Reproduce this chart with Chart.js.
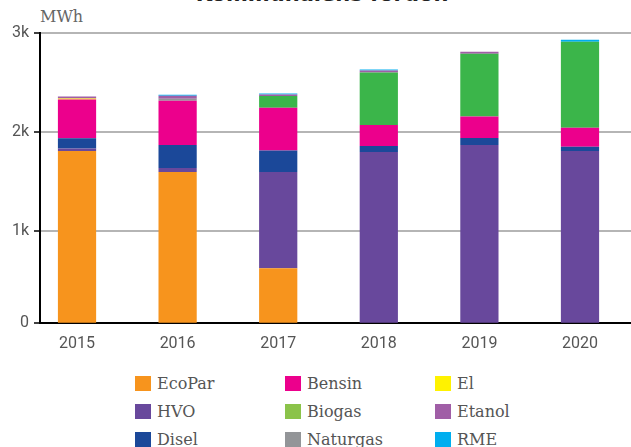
<!DOCTYPE html>
<html>
<head>
<meta charset="utf-8">
<script src="https://cdn.jsdelivr.net/npm/chart.js@4"></script>
<style>
  body { margin: 0; background: #fff; }
  #wrap { position: relative; width: 631px; height: 447px; overflow: hidden; }
  #chartBox { position: absolute; left: 0; top: 0; width: 631px; height: 366px; }
  #title { position: absolute; top: -18px; left: 0; width: 644px; text-align: center;
    font: bold 21px "DejaVu Sans", sans-serif; color: #222; }
  #unit { position: absolute; left: 40px; top: 7px; font: 16px "DejaVu Serif", serif; color: #666; }
  #legend { position: absolute; left: 0; top: 0; }
  .item { position: absolute; height: 20px; display: flex; align-items: center;
    font: 16px "DejaVu Serif", serif; color: #555; white-space: nowrap; }
  .box { width: 16px; height: 15px; margin-right: 6px; }
</style>
</head>
<body>
<div id="wrap">
  <div id="title">Kommunalens fordon</div>
  <div id="unit">MWh</div>
  <div id="chartBox"><canvas id="myChart"></canvas></div>
  <div id="legend"></div>
</div>
<script>
// Data
const years = [2015, 2016, 2017, 2018, 2019, 2020];

const ecoPar   = [1807, 1595, 622, 0, 0, 0];
const hvo      = [24, 40, 973, 1797, 1868, 1807];
const disel    = [105, 233, 216, 61, 71, 44];
const bensin   = [391, 446, 432, 213, 216, 190];
const el       = [10, 0, 0, 0, 0, 0];
const naturgas = [0, 21, 0, 0, 0, 0];
const biogas   = [0, 0, 119, 530, 635, 871];
const etanol   = [21, 30, 16, 20, 20, 0];
const rme      = [0, 10, 10, 10, 0, 20];

const yTicks = [0, 1000, 2000, 3000];

// stacking order, bottom to top
const series = [
  { label: 'EcoPar',   data: ecoPar,   color: '#f7941d' },
  { label: 'HVO',      data: hvo,      color: '#68489c' },
  { label: 'Disel',    data: disel,    color: '#1b4899' },
  { label: 'Bensin',   data: bensin,   color: '#ec008c' },
  { label: 'El',       data: el,       color: '#fff200' },
  { label: 'Naturgas', data: naturgas, color: '#939598' },
  { label: 'Biogas',   data: biogas,   color: '#3bb54a', legendColor: '#8bc34a' },
  { label: 'Etanol',   data: etanol,   color: '#a05ea6' },
  { label: 'RME',      data: rme,      color: '#00aeef' }
];

// legend order (3 columns, read down)
const legendCols = [
  ['EcoPar', 'HVO', 'Disel'],
  ['Bensin', 'Biogas', 'Naturgas'],
  ['El', 'Etanol', 'RME']
];

const AXIS_MIN = 70; // the baseline sits a little above zero in the original

const datasets = series.map(s => ({
  label: s.label,
  data: years.map((y, i) => ({ x: y, y: s.data[i] })),
  backgroundColor: s.color,
  borderWidth: 0,
  barPercentage: 1,
  categoryPercentage: 0.38
}));

const config = {
  type: 'bar',
  data: { datasets },
  options: {
    responsive: true,
    maintainAspectRatio: false,
    animation: false,
    layout: { padding: { top: 33, right: 0, left: 0, bottom: 8 } },
    plugins: { legend: { display: false }, tooltip: { enabled: false } },
    scales: {
      x: {
        type: 'linear',
        stacked: true,
        offset: false,
        min: 2014.632,
        max: 2020.507,
        grid: { display: false },
        border: { color: '#000', width: 2 },
        ticks: {
          stepSize: 1,
          includeBounds: false,
          padding: 4,
          color: '#555',
          font: { family: 'Roboto', size: 16 },
          callback: v => String(v)
        }
      },
      y: {
        stacked: true,
        min: AXIS_MIN,
        max: 3000,
        afterBuildTicks: scale => {
          scale.ticks = yTicks.map(v => ({ value: Math.max(v, AXIS_MIN) }));
        },
        afterFit: scale => { scale.width = 40; },
        grid: { color: '#b5b5b5', lineWidth: 2, tickColor: '#000', tickLength: 6, tickWidth: 1.5 },
        border: { color: '#000', width: 2 },
        ticks: {
          padding: 5,
          color: '#555',
          font: { family: 'Roboto', size: 16 },
          callback: v => v <= AXIS_MIN ? '0' : (v / 1000) + 'k'
        }
      }
    }
  }
};

var myChart = new Chart(document.getElementById('myChart'), config);

// HTML legend
const legend = document.getElementById('legend');
legendCols.forEach((col, c) => {
  col.forEach((name, r) => {
    const s = series.find(d => d.label === name);
    const item = document.createElement('div');
    item.className = 'item';
    item.style.left = (135 + c * 150) + 'px';
    item.style.top = (373 + r * 28) + 'px';
    item.innerHTML = '<div class="box" style="background:' + (s.legendColor || s.color) + '"></div>' + name;
    legend.appendChild(item);
  });
});
</script>
</body>
</html>
